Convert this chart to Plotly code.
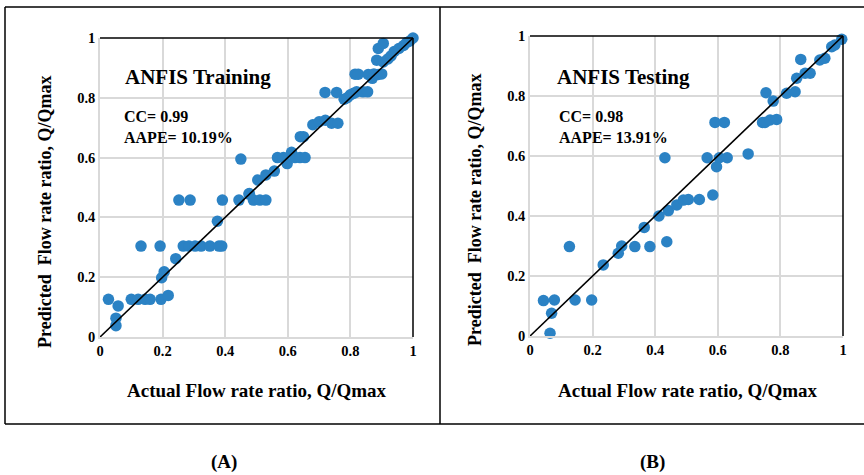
import plotly.graph_objects as go

# ---------------- data ----------------
train_actual = [0.027, 0.058, 0.051, 0.051, 0.100, 0.122, 0.144, 0.160, 0.195, 0.218,
                0.197, 0.205, 0.242, 0.131, 0.192, 0.266, 0.284, 0.304, 0.323, 0.351,
                0.380, 0.389, 0.375, 0.252, 0.288, 0.391, 0.444, 0.476, 0.450, 0.477,
                0.490, 0.511, 0.530, 0.504, 0.530, 0.557, 0.567, 0.586, 0.598, 0.612,
                0.623, 0.639, 0.655, 0.640, 0.650, 0.680, 0.700, 0.720, 0.740, 0.760,
                0.719, 0.756, 0.780, 0.790, 0.800, 0.810, 0.820, 0.840, 0.855, 0.815,
                0.825, 0.857, 0.875, 0.889, 0.870, 0.900, 0.884, 0.889, 0.905, 0.905,
                0.920, 0.930, 0.940, 0.955, 0.970, 0.980, 0.990, 1.000]
train_pred = [0.126, 0.104, 0.063, 0.038, 0.126, 0.126, 0.126, 0.126, 0.126, 0.139,
              0.198, 0.218, 0.262, 0.304, 0.304, 0.304, 0.304, 0.304, 0.304, 0.304,
              0.304, 0.304, 0.387, 0.458, 0.458, 0.458, 0.458, 0.478, 0.595, 0.480,
              0.458, 0.458, 0.458, 0.525, 0.542, 0.555, 0.600, 0.600, 0.580, 0.618,
              0.600, 0.600, 0.600, 0.670, 0.670, 0.710, 0.720, 0.725, 0.715, 0.715,
              0.818, 0.818, 0.795, 0.800, 0.810, 0.815, 0.820, 0.820, 0.820, 0.879,
              0.879, 0.878, 0.880, 0.878, 0.865, 0.880, 0.926, 0.965, 0.982, 0.920,
              0.930, 0.940, 0.955, 0.965, 0.975, 0.985, 0.990, 1.000]

test_actual = [0.043, 0.078, 0.069, 0.064, 0.144, 0.197, 0.126, 0.234, 0.282, 0.293,
               0.335, 0.383, 0.365, 0.437, 0.412, 0.442, 0.469, 0.431, 0.490, 0.506,
               0.541, 0.584, 0.566, 0.596, 0.605, 0.630, 0.697, 0.591, 0.621, 0.743,
               0.751, 0.767, 0.788, 0.754, 0.777, 0.820, 0.847, 0.852, 0.865, 0.879,
               0.895, 0.926, 0.942, 0.964, 0.974, 0.996]
test_pred = [0.118, 0.120, 0.076, 0.009, 0.120, 0.120, 0.298, 0.237, 0.276, 0.300,
             0.298, 0.298, 0.362, 0.314, 0.400, 0.418, 0.437, 0.594, 0.453, 0.455,
             0.455, 0.470, 0.594, 0.564, 0.594, 0.594, 0.607, 0.712, 0.712, 0.712,
             0.712, 0.720, 0.722, 0.811, 0.783, 0.809, 0.814, 0.859, 0.922, 0.876,
             0.876, 0.920, 0.926, 0.964, 0.970, 0.989]

line_ends = [0, 1]
tick_vals = [0, 0.2, 0.4, 0.6, 0.8, 1]
tick_text = ["0", "0.2", "0.4", "0.6", "0.8", "1"]
panel_titles = ["ANFIS Training", "ANFIS Testing"]
cc_texts = ["CC= 0.99", "CC= 0.98"]
aape_texts = ["AAPE= 10.19%", "AAPE= 13.91%"]
panel_labels = ["(A)", "(B)"]
x_title = "Actual Flow rate ratio, Q/Qmax"
y_title = "Predicted  Flow rate ratio, Q/Qmax"

# ---------------- layout helpers ----------------
W, H = 864, 475
FONT = "Liberation Serif, Times New Roman, serif"
BLUE = "#2B82C4"


def px(x):
    return x / W


def py(y):
    return (H - y) / H


panels = [
    dict(x0=100, x1=413, y0=337, y1=38, xa="x", ya="y", cx=257, cy=212, tx=45),
    dict(x0=530, x1=843, y0=336, y1=36, xa="x2", ya="y2", cx=688, cy=210, tx=475),
]

fig = go.Figure()
datasets = [(train_actual, train_pred), (test_actual, test_pred)]
for p, (xs, ys) in zip(panels, datasets):
    fig.add_trace(go.Scatter(x=xs, y=ys, mode="markers", xaxis=p["xa"], yaxis=p["ya"],
                             marker=dict(color=BLUE, size=11.5), cliponaxis=False,
                             showlegend=False, hoverinfo="skip"))
    fig.add_trace(go.Scatter(x=line_ends, y=line_ends, mode="lines", xaxis=p["xa"], yaxis=p["ya"],
                             line=dict(color="black", width=1.6), cliponaxis=False,
                             showlegend=False, hoverinfo="skip"))

axis_common = dict(range=[0, 1], tickvals=tick_vals, ticktext=tick_text, showgrid=True,
                   gridcolor="#D9D9D9", gridwidth=1.5, zeroline=False, showline=True,
                   linecolor="#D9D9D9", linewidth=1.5, ticks="",
                   tickfont=dict(family=FONT, size=14.5, color="black", weight="bold"),
                   fixedrange=True)

layout_axes = {}
for i, p in enumerate(panels):
    sfx = "" if i == 0 else str(i + 1)
    layout_axes["xaxis" + sfx] = dict(axis_common, domain=[px(p["x0"]), px(p["x1"])],
                                      anchor="y" + sfx)
    layout_axes["yaxis" + sfx] = dict(axis_common, domain=[py(p["y0"]), py(p["y1"])],
                                      anchor="x" + sfx)

shapes = []
annotations = []
for i, p in enumerate(panels):
    sfx = "" if i == 0 else str(i + 1)
    # top and right black borders of the plot area
    shapes.append(dict(type="line", xref="x%s domain" % sfx, yref="y%s domain" % sfx,
                       x0=0, x1=1, y0=1, y1=1, line=dict(color="black", width=1.5)))
    shapes.append(dict(type="line", xref="x%s domain" % sfx, yref="y%s domain" % sfx,
                       x0=1, x1=1, y0=0, y1=1, line=dict(color="black", width=1.5)))
    bx = p["x0"] + 22
    annotations.append(dict(text="<b>%s</b>" % panel_titles[i], xref="paper", yref="paper",
                            x=px(bx + (1 if i == 0 else 3)), y=py(77), xanchor="left",
                            yanchor="middle", showarrow=False,
                            font=dict(family=FONT, size=21, color="black")))
    annotations.append(dict(text="<b>%s</b><br><b>%s</b>" % (cc_texts[i], aape_texts[i]),
                            xref="paper", yref="paper", align="left",
                            x=px(bx + (0 if i == 0 else 5)), y=py(127), xanchor="left",
                            yanchor="middle", showarrow=False,
                            font=dict(family=FONT, size=16, color="black")))
    annotations.append(dict(text="<b>%s</b>" % x_title, xref="paper", yref="paper",
                            x=px(p["cx"]), y=py(390), xanchor="center", yanchor="middle",
                            showarrow=False, font=dict(family=FONT, size=19, color="black")))
    annotations.append(dict(text="<b>%s</b>" % y_title, xref="paper", yref="paper",
                            x=px(p["tx"]), y=py(p["cy"]), xanchor="center", yanchor="middle",
                            textangle=-90, showarrow=False,
                            font=dict(family=FONT, size=18, color="black")))
    annotations.append(dict(text="<b>%s</b>" % panel_labels[i], xref="paper", yref="paper",
                            x=px(224 if i == 0 else 652), y=py(462), xanchor="center",
                            yanchor="middle", showarrow=False,
                            font=dict(family=FONT, size=19, color="black")))

# outer frame and divider
frame = dict(color="black", width=1.5)
shapes += [
    dict(type="line", xref="paper", yref="paper", x0=px(5), x1=px(864), y0=py(7), y1=py(7), line=frame),
    dict(type="line", xref="paper", yref="paper", x0=px(5), x1=px(864), y0=py(424), y1=py(424), line=frame),
    dict(type="line", xref="paper", yref="paper", x0=px(5), x1=px(5), y0=py(7), y1=py(424), line=frame),
    dict(type="line", xref="paper", yref="paper", x0=px(440), x1=px(440), y0=py(7), y1=py(424), line=frame),
]

fig.update_layout(width=W, height=H, margin=dict(l=0, r=0, t=0, b=0, autoexpand=False),
                  paper_bgcolor="white", plot_bgcolor="white", shapes=shapes,
                  annotations=annotations, showlegend=False, **layout_axes)

fig.write_html("out.html", config=dict(displayModeBar=False))
